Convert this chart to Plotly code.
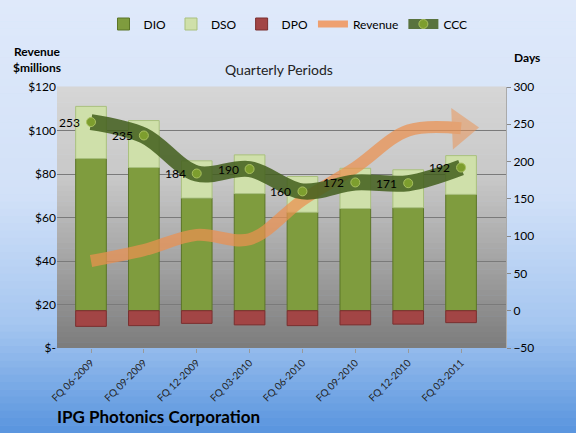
import plotly.graph_objects as go

# data
quarters = ["FQ 06-2009", "FQ 09-2009", "FQ 12-2009", "FQ 03-2010",
            "FQ 06-2010", "FQ 09-2010", "FQ 12-2010", "FQ 03-2011"]
dio = [204, 192, 151, 157, 132, 137, 138, 156]
dso = [70, 63, 50, 52, 48, 54, 51, 52]
dpo = [21, 20, 17, 19, 20, 19, 18, 16]
revenue = [40, 45, 52, 50, 68, 83, 100, 101]
ccc = [253, 235, 184, 190, 160, 172, 171, 192]

rev_ticks = [0, 20, 40, 60, 80, 100, 120]
rev_labels = ["$-", "$20", "$40", "$60", "$80", "$100", "$120"]
day_ticks = [-50, 0, 50, 100, 150, 200, 250, 300]

FONT = "Lato"
W, H = 576, 433
L, R, T, B = 57, 70, 87, 85
pw, ph = W - L - R, H - T - B


def blend(stops, t):
    for (t0, c0), (t1, c1) in zip(stops, stops[1:]):
        if t0 <= t <= t1:
            f = (t - t0) / (t1 - t0)
            c = [round(a + (b - a) * f) for a, b in zip(c0, c1)]
            return "rgb(%d,%d,%d)" % tuple(c)
    return "rgb(%d,%d,%d)" % stops[-1][1]


def gradient(x0, x1, y0, y1, stops, n=60):
    # top to bottom bands
    out = []
    for i in range(n):
        ya = y1 - (y1 - y0) * i / n
        yb = y1 - (y1 - y0) * (i + 1) / n
        out.append(dict(type="rect", xref="paper", yref="paper", layer="below",
                        x0=x0, x1=x1, y0=yb, y1=ya + 0.002,
                        fillcolor=blend(stops, (i + 0.5) / n), line_width=0))
    return out


def px(x, y):
    # pixel position on the page -> paper coords
    return (x - L) / pw, (H - B - y) / ph


paper_stops = [(0, (223, 233, 250)), (0.45, (210, 225, 248)),
               (0.75, (165, 198, 240)), (1, (88, 148, 222))]
plot_stops = [(0, (214, 214, 214)), (0.35, (200, 200, 200)),
              (0.7, (160, 160, 160)), (1, (124, 124, 124))]

shapes = gradient(-L / pw, (W - L) / pw, -B / ph, 1 + T / ph, paper_stops)
shapes += gradient(0, 1, 0, 1, plot_stops, n=50)

fig = go.Figure()

fig.add_trace(go.Bar(x=quarters, y=dio, name="DIO", yaxis="y",
                     marker=dict(color="#7f9c3e", line=dict(color="#5b7527", width=1))))
fig.add_trace(go.Bar(x=quarters, y=dso, name="DSO", yaxis="y",
                     marker=dict(color="#cfe0aa", line=dict(color="#a9c07e", width=1))))
fig.add_trace(go.Bar(x=quarters, y=[-v for v in dpo], name="DPO", yaxis="y",
                     marker=dict(color="#a24545", line=dict(color="#7a2f2f", width=1))))

# revenue, thick orange arrow
fig.add_trace(go.Scatter(
    x=quarters, y=revenue, yaxis="y2", mode="lines+markers", showlegend=False,
    line=dict(shape="spline", width=12, color="#ec9150"),
    marker=dict(symbol="triangle-up", angleref="previous", color="#ec9150",
                size=[0] * (len(revenue) - 1) + [36], line_width=0),
    opacity=0.72, hoverinfo="skip"))
fig.add_trace(go.Scatter(x=[None], y=[None], yaxis="y2", mode="lines", name="Revenue",
                         line=dict(width=7, color="#eea070")))

# cash conversion cycle
fig.add_trace(go.Scatter(
    x=quarters, y=ccc, yaxis="y3", mode="lines+markers", name="CCC",
    line=dict(shape="spline", width=16, color="rgba(66,94,28,0.85)"),
    marker=dict(size=9, color="#7d9e2e", line=dict(color="#a8c060", width=1))))

annotations = [
    dict(x=q, y=v, xref="x", yref="y3", text=str(v), showarrow=False,
         xanchor="right", xshift=-9, font=dict(size=12, color="black", family=FONT))
    for q, v in zip(quarters, ccc)
]


def label(text, x, y, size, anchor="center", color="black"):
    ax, ay = px(x, y)
    return dict(x=ax, y=ay, xref="paper", yref="paper", text=text, showarrow=False,
                xanchor=anchor, yanchor="middle", align="center",
                font=dict(size=size, color=color, family=FONT))


annotations += [
    label("Quarterly Periods", 279, 70, 14, color="#222"),
    label("<b>Revenue<br>$millions</b>", 37, 59, 12),
    label("<b>Days</b>", 527, 58, 12),
    label("<b>IPG Photonics Corporation</b>", 55, 416, 17, anchor="left"),
]

fig.update_layout(
    width=W, height=H,
    margin=dict(l=L, r=R, t=T, b=B, autoexpand=False),
    barmode="relative", bargap=0.42,
    paper_bgcolor="#c8dbf5", plot_bgcolor="rgba(0,0,0,0)",
    font=dict(family=FONT, size=12, color="black"),
    shapes=shapes, annotations=annotations,
    legend=dict(orientation="h", xref="container", yref="container",
                x=0.5, xanchor="center", y=1 - 24 / H, yanchor="middle",
                bgcolor="rgba(0,0,0,0)", font=dict(size=12, family=FONT),
                traceorder="normal", itemwidth=30, tracegroupgap=0),
    xaxis=dict(tickangle=-45, tickfont=dict(size=10, color="#222"), showgrid=False,
               ticks="outside", ticklen=4, tickcolor="#999", showline=False,
               automargin=False),
    yaxis=dict(side="right", range=[-50, 300], tickvals=day_ticks,
               showgrid=False, zeroline=False, ticks="outside", ticklen=4,
               tickcolor="#888", showline=True, linecolor="#aaa", automargin=False),
    yaxis2=dict(side="left", overlaying="y", range=[0, 120], tickvals=rev_ticks,
                ticktext=rev_labels, showgrid=True, gridcolor="#7a7a7a", gridwidth=1,
                zeroline=False, showline=False, automargin=False),
    yaxis3=dict(overlaying="y", range=[-50, 300], visible=False),
    showlegend=True,
)

# the page body has a default 8px margin, drop it so the chart sits at 0,0
fig.write_html("out.html", config={"displayModeBar": False},
               post_script="document.body.style.margin='0';")
